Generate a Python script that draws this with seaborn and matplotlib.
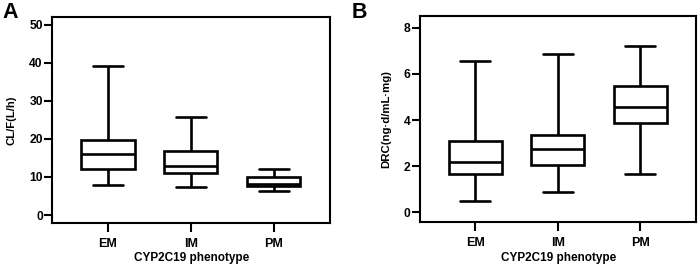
import numpy as np
import pandas as pd
import matplotlib
matplotlib.use("Agg")
import matplotlib.pyplot as plt
import seaborn as sns

# Five-number summaries: [min, Q1, median, Q3, max]
phenotypes = ["EM", "IM", "PM"]
clf_em = [7.8, 12.0, 16.0, 19.7, 39.0]
clf_im = [7.4, 11.0, 12.9, 16.7, 25.7]
clf_pm = [6.2, 7.5, 8.1, 9.9, 12.1]
drc_em = [0.48, 1.66, 2.17, 3.08, 6.56]
drc_im = [0.87, 2.05, 2.73, 3.35, 6.88]
drc_pm = [1.64, 3.85, 4.58, 5.48, 7.20]
clf_ticks = [0, 10, 20, 30, 40, 50]
drc_ticks = [0, 2, 4, 6, 8]

sns.set_style("ticks")
plt.rcParams["font.family"] = ["Liberation Sans", "DejaVu Sans"]
plt.rcParams["font.weight"] = "bold"
plt.rcParams["text.color"] = "black"
plt.rcParams["axes.labelcolor"] = "black"
plt.rcParams["xtick.color"] = "black"
plt.rcParams["ytick.color"] = "black"

def frame(vals_list):
    rows = []
    for p, vals in zip(phenotypes, vals_list):
        for v in vals:
            rows.append({"phenotype": p, "value": v})
    return pd.DataFrame(rows)

df_a = frame([clf_em, clf_im, clf_pm])
df_b = frame([drc_em, drc_im, drc_pm])

fig = plt.figure(figsize=(6.99, 2.69), dpi=100)
ax_a = fig.add_axes([0.0751, 0.171, 0.397, 0.766])
ax_b = fig.add_axes([0.601, 0.173, 0.395, 0.766])

def draw(ax, df, ylabel, ylim, ticks, lpad):
    sns.boxplot(data=df, x="phenotype", y="value", order=phenotypes, ax=ax,
                color="white", linecolor="black", linewidth=1.9, width=0.64,
                whis=(0, 100), saturation=1, fliersize=0, capwidths=0.36)
    ax.set_xlim(-0.67, 2.68)
    ax.set_ylim(*ylim)
    ax.set_yticks(ticks)
    ax.set_yticklabels([str(t) for t in ticks], fontsize=8.7, fontweight="bold", color="black")
    ax.set_xticks(range(len(phenotypes)))
    ax.set_xticklabels(phenotypes, fontsize=9, fontweight="bold", color="black")
    ax.set_xlabel("CYP2C19 phenotype", fontsize=8.5, fontweight="bold", labelpad=2, color="black")
    ax.set_ylabel(ylabel, fontsize=8.2, fontweight="bold", labelpad=lpad, color="black")
    for s in ax.spines.values():
        s.set_visible(True)
        s.set_linewidth(1.5)
        s.set_color("black")
    ax.tick_params(axis="y", length=5.5, width=1.5, pad=1.5, colors="black")
    ax.tick_params(axis="x", length=6.5, width=1.5, pad=4, colors="black")

draw(ax_a, df_a, "CL/F(L/h)", (-2.1, 52.0), clf_ticks, 9.5)
draw(ax_b, df_b, "DRC(ng·d/mL·mg)", (-0.45, 8.5), drc_ticks, 8.5)

fig.text(0.003, 0.993, "A", fontsize=15.5, fontweight="bold", va="top", ha="left", color="black")
fig.text(0.503, 0.993, "B", fontsize=15.5, fontweight="bold", va="top", ha="left", color="black")

fig.savefig("out.png", dpi=100, facecolor="white")
